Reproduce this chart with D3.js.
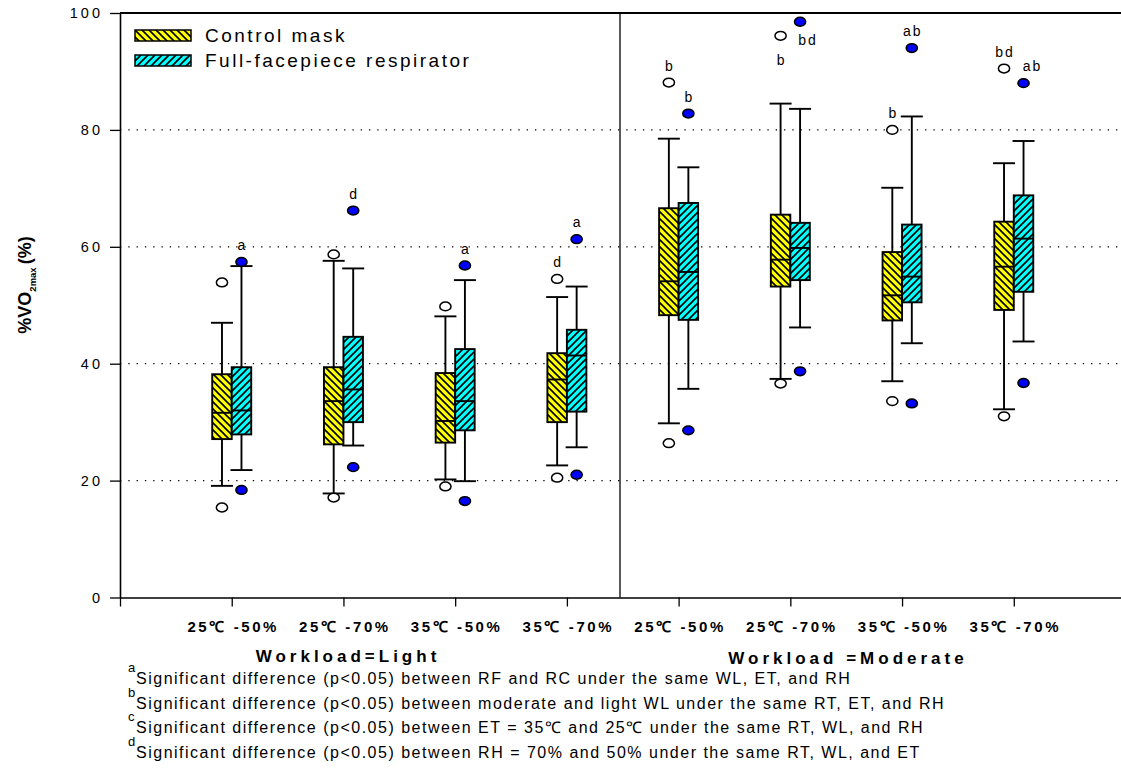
<!DOCTYPE html>
<html>
<head>
<meta charset="utf-8">
<script src="https://cdn.jsdelivr.net/npm/d3@7"></script>
<style>
  body { margin: 0; background: #fff; }
  svg { display: block; }
  text { font-family: "Liberation Sans", Arial, sans-serif; fill: #000; }
</style>
</head>
<body>
<svg id="chart" width="1121" height="774"></svg>
<script>
// Condition labels (ET - RH) for each group, light workload first, then moderate
const groups = ["25℃ -50%", "25℃ -70%", "35℃ -50%", "35℃ -70%",
                "25℃ -50%", "25℃ -70%", "35℃ -50%", "35℃ -70%"];
const workloads = ["Workload=Light", "Workload =Moderate"];
const seriesNames = ["Control mask", "Full-facepiece respirator"];
const yTicks = [0, 20, 40, 60, 80, 100];

// Control mask: box-plot statistics of %VO2max per group
const controlLow    = [19.1, 17.8, 20.2, 22.6, 29.8, 37.4, 37.0, 32.2];
const controlQ1     = [27.1, 26.2, 26.5, 30.0, 48.3, 53.2, 47.4, 49.2];
const controlMedian = [31.6, 33.6, 30.2, 37.3, 54.1, 57.8, 51.7, 56.6];
const controlQ3     = [38.2, 39.4, 38.4, 41.8, 66.6, 65.5, 59.1, 64.3];
const controlHigh   = [47.0, 57.6, 48.1, 51.4, 78.5, 84.5, 70.1, 74.3];
const controlOutLow  = [15.4, 17.1, 19.0, 20.5, 26.4, 36.6, 33.6, 31.0];
const controlOutHigh = [53.9, 58.7, 49.8, 54.5, 88.1, 96.1, 80.0, 90.5];
const controlNotes   = ["", "", "", "d", "b", "b", "b", "bd"];

// Full-facepiece respirator: box-plot statistics of %VO2max per group
const respLow    = [21.8, 26.0, 19.9, 25.7, 35.7, 46.2, 43.5, 43.8];
const respQ1     = [27.9, 30.0, 28.6, 31.8, 47.5, 54.3, 50.5, 52.3];
const respMedian = [32.0, 35.6, 33.6, 41.4, 55.7, 59.8, 54.9, 61.4];
const respQ3     = [39.4, 44.6, 42.5, 45.8, 67.5, 64.1, 63.8, 68.8];
const respHigh   = [56.7, 56.3, 54.3, 53.2, 73.6, 83.6, 82.3, 78.1];
const respOutLow  = [18.4, 22.3, 16.5, 21.0, 28.6, 38.7, 33.2, 36.7];
const respOutHigh = [57.4, 66.2, 56.8, 61.3, 82.8, 98.5, 94.0, 88.0];
const respNotes   = ["a", "d", "a", "a", "b", "bd", "ab", "ab"];

// Footnotes explaining the significance letters
const footLetters = ["a", "b", "c", "d"];
const footTexts = [
  "Significant difference (p<0.05) between RF and RC under the same WL, ET, and RH",
  "Significant difference (p<0.05) between moderate and light WL under the same RT, ET, and RH",
  "Significant difference (p<0.05) between ET = 35℃  and 25℃  under the same RT, WL, and RH",
  "Significant difference (p<0.05) between RH = 70% and 50% under the same RT, WL, and ET"
];

const svg = d3.select("#chart");
const plotLeft = 120, plotTop = 13, plotBottom = 597.5, plotRight = 1121;

const x = d3.scaleLinear().domain([0, 9]).range([plotLeft, 1125.5]);
const y = d3.scaleLinear().domain([0, 100]).range([plotBottom, plotTop]);

// Hatch fills
const defs = svg.append("defs");
function hatch(id, fill, back) {
  const p = defs.append("pattern").attr("id", id)
    .attr("patternUnits", "userSpaceOnUse").attr("width", 7).attr("height", 7);
  p.append("rect").attr("width", 7).attr("height", 7).attr("fill", fill);
  p.append("path")
    .attr("d", back ? "M-1,-1L8,8M-1,6L1,8M6,-1L8,1" : "M-1,8L8,-1M-1,1L1,-1M6,8L8,6")
    .attr("stroke", "#000").attr("stroke-width", 1.6);
}
hatch("hatchControl", "#ffff00", true);
hatch("hatchResp", "#00ffff", false);

// Dotted gridlines
svg.append("g").selectAll("line").data(yTicks.filter(v => v > 0 && v < 100)).join("line")
  .attr("x1", plotLeft).attr("x2", plotRight)
  .attr("y1", d => y(d)).attr("y2", d => y(d))
  .attr("stroke", "#000").attr("stroke-width", 1.2)
  .attr("stroke-dasharray", "1.3,7");

// Frame: top border and workload divider
svg.append("line").attr("x1", plotLeft).attr("x2", plotRight).attr("y1", plotTop).attr("y2", plotTop)
  .attr("stroke", "#000").attr("stroke-width", 2);
svg.append("line").attr("x1", 620).attr("x2", 620).attr("y1", plotTop).attr("y2", plotBottom)
  .attr("stroke", "#000").attr("stroke-width", 1.3);

// Y axis
const yAxis = svg.append("g").attr("transform", `translate(${plotLeft},0)`)
  .call(d3.axisLeft(y).tickValues(yTicks).tickSize(10).tickSizeOuter(0).tickPadding(7));
yAxis.select(".domain").attr("stroke-width", 1.6);
yAxis.selectAll(".tick line").attr("stroke-width", 1.3);
yAxis.selectAll(".tick text")
  .style("font-family", '"Liberation Sans", Arial, sans-serif')
  .style("font-size", "14.5px").style("letter-spacing", "3px");

// X axis
const xAxis = svg.append("g").attr("transform", `translate(0,${plotBottom})`)
  .call(d3.axisBottom(x).tickValues(d3.range(0, 10)).tickSize(9).tickSizeOuter(0).tickFormat(""));
xAxis.select(".domain").attr("stroke-width", 1.6);
xAxis.selectAll(".tick line").attr("stroke-width", 1.3);

// Group labels
svg.append("g").selectAll("text").data(groups).join("text")
  .attr("x", (d, i) => x(i + 1) + 1.5).attr("y", 632)
  .attr("text-anchor", "middle")
  .style("font-size", "15px").style("font-weight", "bold").style("letter-spacing", "2.6px")
  .text(d => d);

// Workload labels
svg.append("text").attr("x", 348).attr("y", 662).attr("text-anchor", "middle")
  .style("font-size", "17px").style("font-weight", "bold").style("letter-spacing", "4px")
  .text(workloads[0]);
svg.append("text").attr("x", 848).attr("y", 664).attr("text-anchor", "middle")
  .style("font-size", "17px").style("font-weight", "bold").style("letter-spacing", "4px")
  .text(workloads[1]);

// Y axis title
const yTitle = svg.append("text")
  .attr("transform", "translate(31,285) rotate(-90)")
  .attr("text-anchor", "middle")
  .style("font-weight", "bold");
yTitle.append("tspan").style("font-size", "18px").text("%VO");
yTitle.append("tspan").style("font-size", "9.5px").attr("dy", 5).text("2max");
yTitle.append("tspan").style("font-size", "18px").attr("dy", -5).attr("dx", 3).text("(%)");

// Box plots
const boxW = 19.5, capW = 22;
const series = [
  { low: controlLow, q1: controlQ1, med: controlMedian, q3: controlQ3, high: controlHigh,
    outLow: controlOutLow, outHigh: controlOutHigh, notes: controlNotes,
    fill: "url(#hatchControl)", dot: "#ffffff", offset: -boxW },
  { low: respLow, q1: respQ1, med: respMedian, q3: respQ3, high: respHigh,
    outLow: respOutLow, outHigh: respOutHigh, notes: respNotes,
    fill: "url(#hatchResp)", dot: "#0000ff", offset: 0 }
];

// Note placement tweaks where a letter would collide with the frame or a neighbour
const noteShift = { "5-0": [0, 41], "5-1": [7, 35], "7-1": [8, 0] };

series.forEach((s, si) => {
  const g = svg.append("g");
  const rows = groups.map((_, i) => ({
    i, cx: x(i + 1) + s.offset + boxW / 2,
    low: s.low[i], q1: s.q1[i], med: s.med[i], q3: s.q3[i], high: s.high[i],
    outLow: s.outLow[i], outHigh: s.outHigh[i], note: s.notes[i]
  }));

  const item = g.selectAll("g").data(rows).join("g");
  item.append("line").attr("x1", d => d.cx).attr("x2", d => d.cx)
    .attr("y1", d => y(d.low)).attr("y2", d => y(d.high))
    .attr("stroke", "#000").attr("stroke-width", 1.9);
  item.append("rect")
    .attr("x", d => d.cx - boxW / 2).attr("width", boxW)
    .attr("y", d => y(d.q3)).attr("height", d => y(d.q1) - y(d.q3))
    .attr("fill", s.fill).attr("stroke", "#000").attr("stroke-width", 1.9);
  item.append("line").attr("x1", d => d.cx - boxW / 2).attr("x2", d => d.cx + boxW / 2)
    .attr("y1", d => y(d.med)).attr("y2", d => y(d.med))
    .attr("stroke", "#000").attr("stroke-width", 1.9);
  ["low", "high"].forEach(k => {
    item.append("line").attr("x1", d => d.cx - capW / 2).attr("x2", d => d.cx + capW / 2)
      .attr("y1", d => y(d[k])).attr("y2", d => y(d[k]))
      .attr("stroke", "#000").attr("stroke-width", 1.9);
  });
  ["outLow", "outHigh"].forEach(k => {
    item.append("ellipse").attr("cx", d => d.cx).attr("cy", d => y(d[k]))
      .attr("rx", 5.6).attr("ry", 4.4)
      .attr("fill", s.dot).attr("stroke", "#000").attr("stroke-width", 1.5);
  });
  item.filter(d => d.note).append("text")
    .attr("x", d => d.cx + (noteShift[`${d.i}-${si}`] || [0, 0])[0] + 1)
    .attr("y", d => y(d.outHigh) - 12 + (noteShift[`${d.i}-${si}`] || [0, 0])[1])
    .attr("text-anchor", "middle")
    .style("font-size", "14px").style("letter-spacing", "2px")
    .text(d => d.note);
});

// Legend
const legend = svg.append("g");
[["url(#hatchControl)", 30, 42], ["url(#hatchResp)", 55, 67]].forEach(([fill, ry, ty], i) => {
  legend.append("rect").attr("x", 135).attr("y", ry).attr("width", 56).attr("height", 11)
    .attr("fill", fill).attr("stroke", "#000").attr("stroke-width", 1.5);
  legend.append("text").attr("x", 205).attr("y", ty)
    .style("font-size", "19px").style("letter-spacing", "2.5px")
    .text(seriesNames[i]);
});

// Footnotes
const foot = svg.append("g");
footTexts.forEach((t, i) => {
  const by = 684 + i * 24.7;
  foot.append("text").attr("x", 128).attr("y", by - 12)
    .style("font-size", "13px").text(footLetters[i]);
  foot.append("text").attr("x", 136).attr("y", by)
    .style("font-size", "16px").style("letter-spacing", "1.5px").text(t);
});
</script>
</body>
</html>
